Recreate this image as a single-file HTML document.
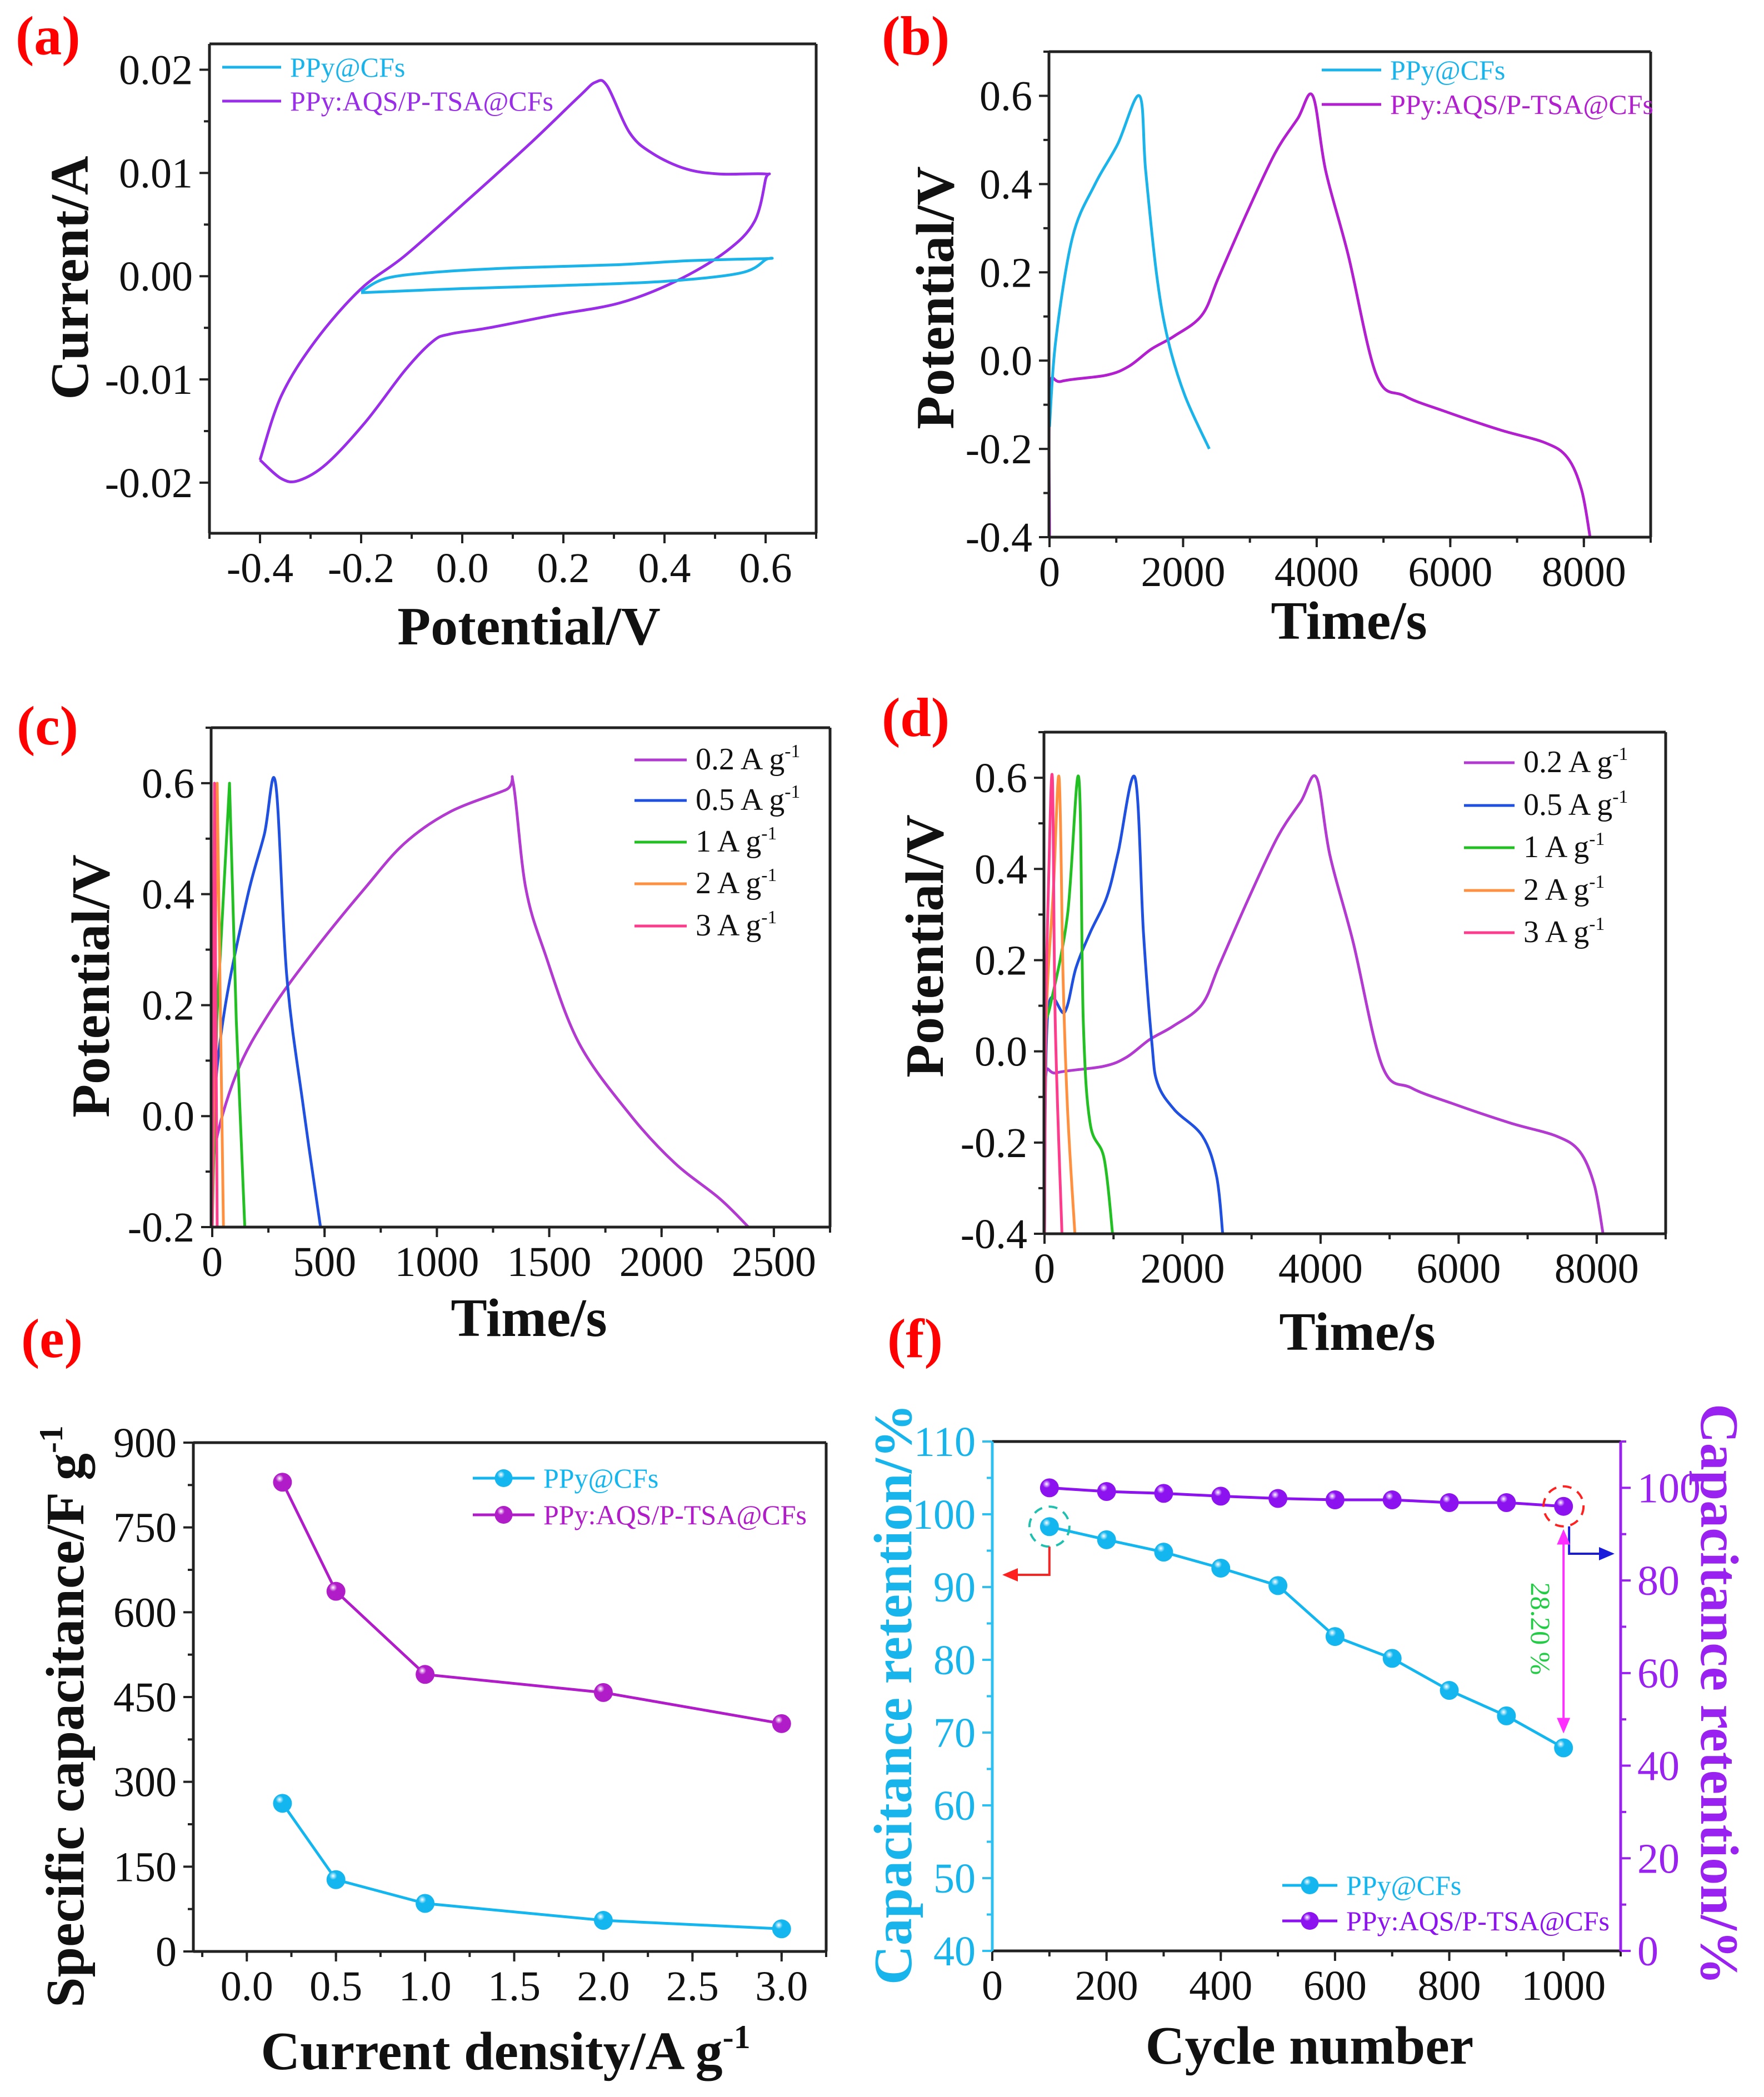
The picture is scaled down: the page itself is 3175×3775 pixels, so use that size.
<!DOCTYPE html>
<html><head><meta charset="utf-8">
<style>
html,body{margin:0;padding:0;background:#fff;}
svg{display:block;font-family:"Liberation Serif","Times New Roman",serif;}
</style></head>
<body>
<svg id="fig" xmlns="http://www.w3.org/2000/svg" width="3175" height="3775" viewBox="0 0 3175 3775" font-family="Liberation Serif, serif">
<rect x="0" y="0" width="3175" height="3775" fill="#fff"/>
</svg>
<script>
// ---------- data ----------
// (a) cyclic voltammetry
const cvAqsV = [-0.4,-0.358,-0.291,-0.202,-0.113,0.009,0.131,0.231,0.264,0.287,0.331,0.376,0.442,0.509,0.6,0.6,0.578,0.522,0.422,0.311,0.178,0.053,-0.024,-0.058,-0.113,-0.191,-0.269,-0.324,-0.358,-0.4];
const cvAqsI = [-0.0178,-0.0116,-0.0063,-0.0013,0.002,0.0073,0.0127,0.0174,0.0188,0.0184,0.0139,0.0119,0.0104,0.0099,0.0099,0.0094,0.0053,0.0024,-0.0005,-0.0026,-0.0038,-0.005,-0.0056,-0.0063,-0.0091,-0.0141,-0.0182,-0.0198,-0.0196,-0.0178];
const cvPpyV = [-0.2,-0.15,-0.05,0.1,0.3,0.45,0.6,0.6,0.55,0.4,0.2,0.0,-0.2];
const cvPpyI = [-0.0015,-0.0002,0.0004,0.0008,0.0011,0.0015,0.0017,0.0016,0.0003,-0.0005,-0.0009,-0.0012,-0.0016];
// (b) GCD comparison
const gcdPpyT = [0,93,345,682,1019,1347,1440,1608,1777,2029,2392];
const gcdPpyV = [-0.15,0.045,0.28,0.40,0.49,0.6,0.43,0.19,0.045,-0.08,-0.2];
const gcdAqsT = [0,8,177,850,1187,1524,1861,2282,2535,2956,3377,3714,3941,4135,4471,4893,5314,5903,6745,7419,7756,7966,8093];
const gcdAqsV = [-0.4,-0.07,-0.047,-0.033,-0.013,0.026,0.055,0.103,0.19,0.335,0.47,0.548,0.6,0.43,0.24,-0.032,-0.08,-0.114,-0.157,-0.186,-0.22,-0.293,-0.4];
// (c) PPy@CFs rates
const cT02 = [0,7,107,257,457,682,857,1057,1307,1340,1395,1482,1632,1857,2057,2257,2387];
const cV02 = [-0.2,-0.068,0.076,0.188,0.3,0.412,0.492,0.548,0.588,0.6,0.412,0.292,0.132,0.004,-0.084,-0.148,-0.2];
const cT05 = [0,7,57,157,232,282,332,407,482];
const cV05 = [-0.2,0.012,0.196,0.396,0.508,0.6,0.252,0.012,-0.2];
const cT1 = [0,20,77,107,145];
const cV1 = [-0.2,0.172,0.6,0.172,-0.2];
const cT2 = [0,22,50];
const cV2 = [-0.2,0.6,-0.2];
const cT3 = [0,10,22];
const cV3 = [-0.2,0.6,-0.2];
// (d) PPy:AQS/P-TSA@CFs rates
const dT02 = [0,8,177,850,1187,1524,1861,2282,2535,2956,3377,3714,3941,4135,4471,4893,5314,5903,6745,7419,7756,7966,8093];
const dV02 = [-0.4,-0.07,-0.047,-0.033,-0.013,0.026,0.055,0.103,0.19,0.335,0.47,0.548,0.6,0.43,0.24,-0.032,-0.08,-0.114,-0.157,-0.186,-0.22,-0.293,-0.4];
const dT05 = [0,49,293,456,660,904,1067,1312,1434,1556,1637,1882,2289,2493,2582];
const dV05 = [-0.4,0.086,0.086,0.183,0.26,0.339,0.436,0.6,0.26,0.018,-0.07,-0.128,-0.186,-0.274,-0.4];
const dT1 = [0,90,334,497,562,660,864,986];
const dV1 = [0.066,0.105,0.3,0.6,0.066,-0.157,-0.235,-0.4];
const dT2 = [0,24,130,212,269,334,440];
const dV2 = [-0.4,0.066,0.358,0.6,0.164,-0.128,-0.4];
const dT3 = [0,16,57,114,155,253];
const dV3 = [-0.4,0.066,0.36,0.6,0.066,-0.4];
// (e) specific capacitance
const eDensity = [0.2,0.5,1,2,3];
const ePpy = [262,127,85,55,40];
const eAqs = [830,637,490,458,403];
// (f) cycling
const fCycles = [100,200,300,400,500,600,700,800,900,1000];
const fPpy = [98.3,96.5,94.8,92.6,90.2,83.2,80.2,75.8,72.3,67.9];
const fAqs = [100,99.2,98.8,98.2,97.7,97.4,97.4,96.8,96.8,96.0];
// tick labels
const aXTicks = ["-0.4","-0.2","0.0","0.2","0.4","0.6"];
const aYTicks = ["-0.02","-0.01","0.00","0.01","0.02"];
const bYTicks = ["-0.4","-0.2","0.0","0.2","0.4","0.6"];
const bXTicks = ["0","2000","4000","6000","8000"];
const cYTicks = ["-0.2","0.0","0.2","0.4","0.6"];
const cXTicks = ["0","500","1000","1500","2000","2500"];
const eYTicks = ["0","150","300","450","600","750","900"];
const eXTicks = ["0.0","0.5","1.0","1.5","2.0","2.5","3.0"];
const fXTicks = ["0","200","400","600","800","1000"];
const fLTicks = ["40","50","60","70","80","90","100","110"];
const fRTicks = ["0","20","40","60","80","100"];

// ---------- helpers ----------
const NS = "http://www.w3.org/2000/svg";
const svg = document.getElementById('fig');
function mk(tag, attrs, parent){ const e=document.createElementNS(NS,tag); for(const k in attrs) e.setAttribute(k,attrs[k]); (parent||svg).appendChild(e); return e; }
function txt(s, attrs, parent){ const e=mk('text',attrs,parent); e.textContent=s; return e; }
function scale(d0,d1,p0,p1){ return v=>p0+(v-d0)/(d1-d0)*(p1-p0); }

const defs = mk('defs',{});
function ballGrad(id,c){ const g=mk('radialGradient',{id:id,cx:'0.35',cy:'0.3',r:'0.7'},defs); mk('stop',{offset:'0','stop-color':'#fff'},g); mk('stop',{offset:'0.3','stop-color':c},g); mk('stop',{offset:'1','stop-color':c},g); }
ballGrad('gCyan','#13b6ee'); ballGrad('gMag','#b01cc8'); ballGrad('gPur','#8d12f0');
const mArr = (id,c)=>{ const m=mk('marker',{id:id,markerWidth:'8',markerHeight:'8',refX:'6',refY:'4',orient:'auto-start-reverse',markerUnits:'strokeWidth'},defs); mk('path',{d:'M0,1 L7,4 L0,7 Z',fill:c},m); };
mArr('arRed','#ff2020'); mArr('arBlue','#1a1adb'); mArr('arMag','#ff30ff');

function axes(g, P, opt){
  const L=P.l,R=P.r,T=P.t,B=P.b;
  const fr=mk('g',{},g);
   
  mk('line',{x1:L,y1:T,x2:R,y2:T,stroke:'#222','stroke-width':5},fr);
  mk('line',{x1:L,y1:B,x2:R,y2:B,stroke:'#222','stroke-width':5},fr);
  mk('line',{x1:L,y1:T,x2:L,y2:B,stroke:opt.leftColor||'#222','stroke-width':5},fr);
  mk('line',{x1:R,y1:T,x2:R,y2:B,stroke:opt.rightColor||'#222','stroke-width':5},fr);
}
function xTicks(g,P,sx,vals,labels,minor,fs){
  const ax=mk('g',{},g);
   
  minor.forEach(v=>mk('line',{x1:sx(v),y1:P.b,x2:sx(v),y2:P.b+10,stroke:'#222','stroke-width':4},ax));
  vals.forEach((v,i)=>{ mk('line',{x1:sx(v),y1:P.b,x2:sx(v),y2:P.b+18,stroke:'#222','stroke-width':4},ax);
    const t=txt(labels[i],{x:sx(v),y:P.b+88,'font-size':fs||76,'text-anchor':'middle',fill:'#111'},ax);
      });
}
function yTicks(g,P,sy,vals,labels,minor,opt){
  opt=opt||{}; const col=opt.color||'#222', right=!!opt.right, x0=right?P.r:P.l, dir=right?1:-1;
  const ax=mk('g',{},g);
   
  minor.forEach(v=>mk('line',{x1:x0,y1:sy(v),x2:x0+dir*10,y2:sy(v),stroke:col,'stroke-width':4},ax));
  vals.forEach((v,i)=>{ mk('line',{x1:x0,y1:sy(v),x2:x0+dir*18,y2:sy(v),stroke:col,'stroke-width':4},ax);
    const t=txt(labels[i],{x:x0+dir*30,y:sy(v)+26,'font-size':opt.fs||76,'text-anchor':right?'start':'end',fill:opt.tcolor||'#111'},ax);
      });
}
function line(g,xs,ys,sx,sy,color,name,w,smooth){
  const p=xs.map((x,i)=>[sx(x),sy(ys[i])]);
  let d='M'+p[0][0].toFixed(1)+','+p[0][1].toFixed(1);
  for(let i=0;i<p.length-1;i++){
    if(!smooth){ d+=' L'+p[i+1][0].toFixed(1)+','+p[i+1][1].toFixed(1); continue; }
    const p0=p[Math.max(i-1,0)],p1=p[i],p2=p[i+1],p3=p[Math.min(i+2,p.length-1)];
    const c1=[p1[0]+(p2[0]-p0[0])/6,p1[1]+(p2[1]-p0[1])/6], c2=[p2[0]-(p3[0]-p1[0])/6,p2[1]-(p3[1]-p1[1])/6];
    d+=' C'+c1[0].toFixed(1)+','+c1[1].toFixed(1)+' '+c2[0].toFixed(1)+','+c2[1].toFixed(1)+' '+p2[0].toFixed(1)+','+p2[1].toFixed(1);
  }
  const el=mk('path',{d:d,fill:'none',stroke:color,'stroke-width':w||5,'stroke-linejoin':'round'},g);
   
  return el;
}
function balls(g,xs,ys,sx,sy,grad,name){
  xs.forEach((x,i)=>{ const c=mk('circle',{cx:sx(x),cy:sy(ys[i]),r:17,fill:'url(#'+grad+')'},g);
      });
}
function title(g,s,x,y,rot,opt){
  opt=opt||{};
  const t=txt(s,{x:x,y:y,'font-size':opt.fs||98,'font-weight':'bold','text-anchor':'middle',fill:opt.color||'#111',transform:rot?('rotate('+rot+' '+x+' '+y+')'):''},g);
   
  return t;
}
function panelLabel(s,x,y){
  const t=txt(s,{x:x,y:y,'font-size':100,'font-weight':'bold',fill:'#ff0000'});
   
}
function legendLine(g,x1,x2,y,color,label,fs,ball,lineColor){
  const e=mk('g',{},g);
   
  mk('line',{x1:x1,y1:y,x2:x2,y2:y,stroke:lineColor||color,'stroke-width':5},e);
  if(ball) mk('circle',{cx:(x1+x2)/2,cy:y,r:16,fill:'url(#'+ball+')'},e);
  const t=txt('',{x:x2+16,y:y+17,'font-size':fs||56,fill:color},e);
  if(typeof label==='string'){ t.textContent=label; }
  else { t.textContent=label[0]; const ts=mk('tspan',{dy:-22,'font-size':(fs||56)*0.6},t); ts.textContent=label[1]; }
}
const range=(a,b,s)=>{const r=[];for(let v=a;v<=b+1e-9;v+=s)r.push(+v.toFixed(6));return r;};

// ---------- (a) ----------
(function(){
  const g=mk('g',{});  
  const P={l:377,r:1469,t:79,b:960};
  const sx=scale(-0.5,0.7,P.l,P.r), sy=scale(-0.0249,0.0225,P.b,P.t);
  line(g,cvAqsV,cvAqsI,sx,sy,'#9a2ee8','cv-aqs-curve',5,true);
  line(g,cvPpyV,cvPpyI,sx,sy,'#1ab4ea','cv-ppy-curve',5,true);
  axes(g,P,{});
  xTicks(g,P,sx,[-0.4,-0.2,0,0.2,0.4,0.6],aXTicks,range(-0.5,0.7,0.1));
  yTicks(g,P,sy,[-0.02,-0.01,0,0.01,0.02],aYTicks,[-0.015,-0.005,0.005,0.015]);
  title(g,'Potential/V',952,1160,0,{name:'x-axis-title'});
  title(g,'Current/A',158,500,-90,{name:'y-axis-title'});
  legendLine(g,400,506,121,'#1ab4ea','PPy@CFs',50);
  legendLine(g,400,506,182,'#9a2ee8','PPy:AQS/P-TSA@CFs',50);
  panelLabel('(a)',28,98);
})();
// ---------- (b) ----------
(function(){
  const g=mk('g',{});  
  const P={l:1888,r:2971,t:93,b:967};
  const sx=scale(0,9000,P.l+1,P.r), sy=scale(-0.4,0.7,P.b,P.t);
  line(g,gcdAqsT,gcdAqsV,sx,sy,'#b21fcf','gcd-aqs-curve',5,true);
  line(g,gcdPpyT,gcdPpyV,sx,sy,'#1ab4ea','gcd-ppy-curve',5,true);
  axes(g,P,{});
  xTicks(g,P,sx,[0,2000,4000,6000,8000],bXTicks,range(0,9000,1000));
  yTicks(g,P,sy,[-0.4,-0.2,0,0.2,0.4,0.6],bYTicks,range(-0.3,0.7,0.2));
  title(g,'Time/s',2428,1150,0,{name:'x-axis-title'});
  title(g,'Potential/V',1716,536,-90,{name:'y-axis-title'});
  legendLine(g,2379,2486,126,'#1ab4ea','PPy@CFs',50);
  legendLine(g,2379,2486,188,'#b21fcf','PPy:AQS/P-TSA@CFs',50);
  panelLabel('(b)',1587,98);
})();
// ---------- (c) ----------
(function(){
  const g=mk('g',{});  
  const P={l:380,r:1494,t:1310,b:2209};
  const sx=scale(0,2750,P.l+2,P.r), sy=scale(-0.2,0.7,P.b,P.t);
  line(g,cT02,cV02,sx,sy,'#b23ad0','gcd-0.2A-curve',5,true);
  line(g,cT05,cV05,sx,sy,'#2050e0','gcd-0.5A-curve',5,true);
  line(g,cT1,cV1,sx,sy,'#22c022','gcd-1A-curve',5,false);
  line(g,cT2,cV2,sx,sy,'#ff9040','gcd-2A-curve',5,false);
  line(g,cT3,cV3,sx,sy,'#ff3c8c','gcd-3A-curve',5,false);
  axes(g,P,{});
  xTicks(g,P,sx,[0,500,1000,1500,2000,2500],cXTicks,range(0,2750,250));
  yTicks(g,P,sy,[-0.2,0,0.2,0.4,0.6],cYTicks,range(-0.1,0.7,0.2));
  title(g,'Time/s',952,2405,0,{name:'x-axis-title'});
  title(g,'Potential/V',196,1775,-90,{name:'y-axis-title'});
  const cols=['#b23ad0','#2050e0','#22c022','#ff9040','#ff3c8c'], labs=[['0.2 A g','-1'],['0.5 A g','-1'],['1 A g','-1'],['2 A g','-1'],['3 A g','-1']], ys=[1368,1441,1516,1591,1667];
  cols.forEach((c,i)=>legendLine(g,1142,1236,ys[i],'#111',labs[i],56,null,c));
  panelLabel('(c)',30,1340);
})();
// ---------- (d) ----------
(function(){
  const g=mk('g',{});  
  const P={l:1879,r:2998,t:1318,b:2221};
  const sx=scale(0,9000,P.l+1,P.r), sy=scale(-0.4,0.7,P.b,P.t);
  line(g,dT02,dV02,sx,sy,'#b23ad0','gcd-0.2A-curve',5,true);
  line(g,dT05,dV05,sx,sy,'#2050e0','gcd-0.5A-curve',5,true);
  line(g,dT1,dV1,sx,sy,'#22c022','gcd-1A-curve',5,true);
  line(g,dT2,dV2,sx,sy,'#ff9040','gcd-2A-curve',5,true);
  line(g,dT3,dV3,sx,sy,'#ff3c8c','gcd-3A-curve',5,true);
  axes(g,P,{});
  xTicks(g,P,sx,[0,2000,4000,6000,8000],bXTicks,range(0,9000,1000));
  yTicks(g,P,sy,[-0.4,-0.2,0,0.2,0.4,0.6],bYTicks,range(-0.3,0.7,0.2));
  title(g,'Time/s',2443,2430,0,{name:'x-axis-title'});
  title(g,'Potential/V',1697,1703,-90,{name:'y-axis-title'});
  const cols=['#b23ad0','#2050e0','#22c022','#ff9040','#ff3c8c'], labs=[['0.2 A g','-1'],['0.5 A g','-1'],['1 A g','-1'],['2 A g','-1'],['3 A g','-1']], ys=[1373,1450,1526,1603,1679];
  cols.forEach((c,i)=>legendLine(g,2635,2726,ys[i],'#111',labs[i],56,null,c));
  panelLabel('(d)',1587,1325);
})();
// ---------- (e) ----------
(function(){
  const g=mk('g',{});  
  const P={l:348,r:1487,t:2597,b:3513};
  const sx=scale(-0.3,3.25,P.l,P.r), sy=scale(0,900,P.b,P.t);
  line(g,eDensity,eAqs,sx,sy,'#b01cc8','capacitance-aqs-line');
  line(g,eDensity,ePpy,sx,sy,'#13b6ee','capacitance-ppy-line');
  balls(g,eDensity,eAqs,sx,sy,'gMag','capacitance-aqs-point');
  balls(g,eDensity,ePpy,sx,sy,'gCyan','capacitance-ppy-point');
  axes(g,P,{});
  xTicks(g,P,sx,[0,0.5,1,1.5,2,2.5,3],eXTicks,range(-0.25,3.25,0.25));
  yTicks(g,P,sy,[0,150,300,450,600,750,900],eYTicks,range(75,825,150));
  const xt=txt('Current density/A g',{x:910,y:3725,'font-size':98,'font-weight':'bold','text-anchor':'middle',fill:'#111'},g);
   
  const xs=mk('tspan',{dy:-38,'font-size':60},xt); xs.textContent='-1';
  const yt=txt('Specific capacitance/F g',{x:150,y:3090,'font-size':98,'font-weight':'bold','text-anchor':'middle',fill:'#111',transform:'rotate(-90 150 3090)'},g);
   
  const ys=mk('tspan',{dy:-38,'font-size':60},yt); ys.textContent='-1';
  legendLine(g,851,962,2661,'#13b6ee','PPy@CFs',50,'gCyan');
  legendLine(g,851,962,2727,'#b01cc8','PPy:AQS/P-TSA@CFs',50,'gMag');
  panelLabel('(e)',38,2443);
})();
// ---------- (f) ----------
(function(){
  const g=mk('g',{});  
  const P={l:1786,r:2917,t:2595,b:3512};
  const sx=scale(0,1100,P.l,P.r), syL=scale(40,110,P.b,P.t), syR=scale(0,110,P.b,P.t);
  line(g,fCycles,fAqs,sx,syR,'#8d12f0','retention-aqs-line');
  line(g,fCycles,fPpy,sx,syL,'#13b6ee','retention-ppy-line');
  balls(g,fCycles,fAqs,sx,syR,'gPur','retention-aqs-point');
  balls(g,fCycles,fPpy,sx,syL,'gCyan','retention-ppy-point');
  axes(g,P,{leftColor:'#2ec0f0',rightColor:'#9a22f0'});
  xTicks(g,P,sx,[0,200,400,600,800,1000],fXTicks,range(0,1100,100));
  yTicks(g,P,syL,[40,50,60,70,80,90,100,110],fLTicks,range(45,105,10),{color:'#2ec0f0',tcolor:'#18b4ec'});
  yTicks(g,P,syR,[0,20,40,60,80,100],fRTicks,range(10,110,20),{color:'#9a22f0',tcolor:'#9a22f0',right:true});
  title(g,'Cycle number',2357,3715,0,{name:'x-axis-title'});
  title(g,'Capacitance retention/%',1640,3050,-90,{name:'left-y-axis-title',color:'#18b4ec'});
  title(g,'Capacitance retention/%',3062,3050,90,{name:'right-y-axis-title',color:'#9a22f0'});
  const an=mk('g',{},g);  
  const c1=mk('circle',{cx:sx(fCycles[0]),cy:syL(fPpy[0]),r:36,fill:'none',stroke:'#20c0b0','stroke-width':4,'stroke-dasharray':'16 12'},an);
   
  const c2=mk('circle',{cx:sx(fCycles[9]),cy:syR(fAqs[9]),r:36,fill:'none',stroke:'#ff2020','stroke-width':4,'stroke-dasharray':'16 12'},an);
   
  const x100=sx(100), x1000=sx(1000);
  const a1=mk('path',{d:'M'+x100+','+(syL(fPpy[0])+36)+' V2835 H1808',fill:'none',stroke:'#ff2020','stroke-width':4,'marker-end':'url(#arRed)'},an);
   
  const a2=mk('path',{d:'M'+(x1000+10)+','+(syR(fAqs[9])+36)+' V2797 H2902',fill:'none',stroke:'#1a1adb','stroke-width':4,'marker-end':'url(#arBlue)'},an);
   
  const a3=mk('line',{x1:x1000,y1:syR(fAqs[9])+45,x2:x1000,y2:syL(fPpy[9])-30,stroke:'#ff30ff','stroke-width':4,'marker-start':'url(#arMag)','marker-end':'url(#arMag)'},an);
   
  const lt=txt('28.20 %',{x:2756,y:2932,'font-size':50,'text-anchor':'middle',fill:'#22cc44',transform:'rotate(90 2756 2932)'},an);
   
  legendLine(g,2308,2407,3394,'#13b6ee','PPy@CFs',50,'gCyan');
  legendLine(g,2308,2407,3458,'#8d12f0','PPy:AQS/P-TSA@CFs',50,'gPur');
  panelLabel('(f)',1597,2443);
})();
</script>
</body></html>
